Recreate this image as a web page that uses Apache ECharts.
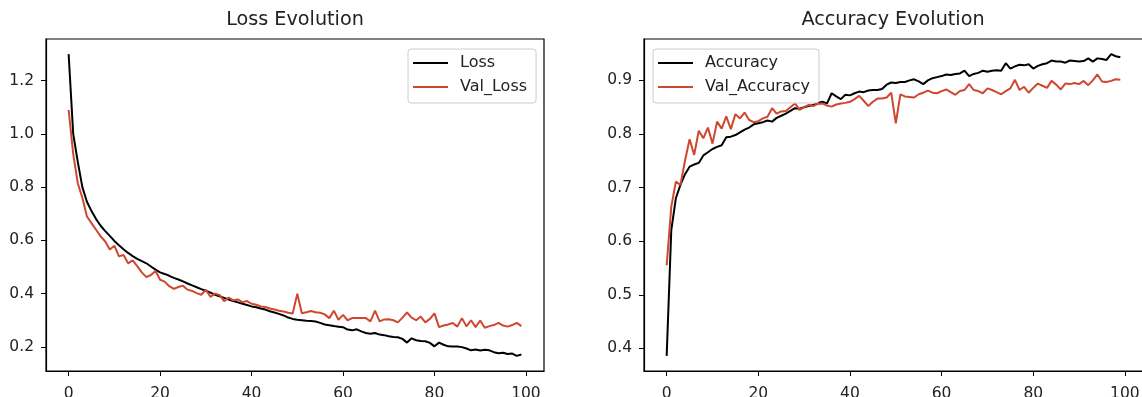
<!DOCTYPE html>
<html>
<head>
<meta charset="utf-8">
<script src="https://cdn.jsdelivr.net/npm/echarts@6/dist/echarts.min.js"></script>
<style>
html,body{margin:0;padding:0;background:#fff;}
#chart{width:1142px;height:397px;}
</style>
</head>
<body>
<div id="chart"></div>
<script>
// ---- data ----
const lossTitle = "Loss Evolution";
const accTitle = "Accuracy Evolution";
const xTicks = [0, 20, 40, 60, 80, 100];
const lossTicks = [0.2, 0.4, 0.6, 0.8, 1.0, 1.2];
const accTicks = [0.4, 0.5, 0.6, 0.7, 0.8, 0.9];

const loss = [1.300,1.000,0.895,0.800,0.745,0.710,0.680,0.655,0.635,0.617,
0.598,0.582,0.567,0.553,0.541,0.531,0.522,0.514,0.502,0.490,
0.480,0.474,0.467,0.459,0.453,0.446,0.438,0.431,0.424,0.417,
0.411,0.404,0.396,0.390,0.384,0.378,0.372,0.367,0.362,0.357,
0.352,0.349,0.344,0.340,0.334,0.329,0.324,0.318,0.310,0.305,
0.302,0.300,0.298,0.297,0.295,0.290,0.284,0.281,0.278,0.276,
0.274,0.265,0.262,0.266,0.258,0.252,0.249,0.252,0.246,0.244,
0.240,0.237,0.236,0.230,0.216,0.232,0.225,0.222,0.221,0.215,
0.202,0.216,0.208,0.202,0.201,0.201,0.199,0.194,0.187,0.190,
0.186,0.189,0.187,0.180,0.176,0.178,0.173,0.175,0.166,0.171];

const valLoss = [1.090,0.925,0.815,0.760,0.690,0.665,0.640,0.615,0.596,0.566,
0.580,0.540,0.545,0.514,0.525,0.503,0.480,0.462,0.470,0.485,
0.452,0.445,0.428,0.418,0.425,0.430,0.415,0.410,0.402,0.396,
0.414,0.388,0.400,0.395,0.372,0.385,0.375,0.378,0.368,0.372,
0.362,0.358,0.352,0.350,0.344,0.340,0.336,0.333,0.328,0.325,
0.400,0.326,0.330,0.335,0.330,0.328,0.322,0.308,0.336,0.302,
0.320,0.300,0.308,0.308,0.308,0.308,0.296,0.336,0.296,0.303,
0.304,0.300,0.292,0.310,0.329,0.310,0.300,0.314,0.292,0.305,
0.326,0.274,0.280,0.284,0.290,0.276,0.308,0.277,0.300,0.274,
0.299,0.272,0.278,0.282,0.290,0.280,0.276,0.282,0.290,0.278];

const accuracy = [0.386,0.620,0.680,0.705,0.725,0.739,0.743,0.746,0.760,0.766,
0.772,0.776,0.779,0.794,0.795,0.798,0.803,0.808,0.812,0.818,
0.820,0.822,0.825,0.823,0.830,0.834,0.838,0.843,0.848,0.847,
0.850,0.852,0.854,0.858,0.860,0.857,0.876,0.870,0.865,0.873,
0.872,0.876,0.879,0.878,0.881,0.882,0.882,0.884,0.892,0.896,
0.895,0.897,0.897,0.900,0.902,0.898,0.893,0.900,0.904,0.906,
0.908,0.911,0.910,0.912,0.913,0.918,0.908,0.912,0.914,0.918,
0.916,0.918,0.919,0.918,0.932,0.922,0.926,0.929,0.928,0.930,
0.922,0.927,0.930,0.932,0.937,0.935,0.935,0.933,0.937,0.936,
0.935,0.936,0.941,0.935,0.941,0.940,0.938,0.949,0.945,0.943];

const valAccuracy = [0.555,0.664,0.711,0.705,0.750,0.790,0.761,0.806,0.792,0.812,
0.782,0.823,0.810,0.833,0.809,0.837,0.829,0.840,0.826,0.822,
0.824,0.829,0.832,0.848,0.838,0.842,0.843,0.850,0.857,0.845,
0.850,0.854,0.852,0.856,0.857,0.853,0.851,0.855,0.857,0.858,
0.860,0.865,0.871,0.862,0.852,0.860,0.866,0.866,0.868,0.877,
0.820,0.874,0.870,0.869,0.868,0.874,0.877,0.881,0.877,0.876,
0.880,0.883,0.878,0.873,0.880,0.882,0.893,0.882,0.880,0.876,
0.885,0.882,0.878,0.874,0.880,0.885,0.901,0.882,0.888,0.877,
0.886,0.894,0.890,0.886,0.899,0.892,0.883,0.894,0.893,0.895,
0.893,0.899,0.891,0.900,0.911,0.898,0.897,0.899,0.902,0.901];

// ---- build chart ----
const FONT = "DejaVu Sans";
const BLACK = "#000000";
const RED = "#cf4730";
const pairs = arr => arr.map((v, i) => [i, v]);

function padRange(arrs) {
  let mn = Infinity, mx = -Infinity;
  arrs.forEach(a => a.forEach(v => { if (v < mn) mn = v; if (v > mx) mx = v; }));
  const m = (mx - mn) * 0.05;
  return [mn - m, mx + m];
}
const xr = [-0.05 * 99, 99 + 0.05 * 99];
const lr = padRange([loss, valLoss]);
const ar = padRange([accuracy, valAccuracy]);

function xAxis(gi) {
  return {
    type: 'value', gridIndex: gi, min: xr[0], max: xr[1], position: 'bottom',
    axisLine: { show: true, onZero: false, lineStyle: { color: '#000', width: 1.2 } },
    splitLine: { show: false },
    axisTick: { show: true, inside: false, length: 5, lineStyle: { color: '#000', width: 1 }, customValues: xTicks },
    axisLabel: { customValues: xTicks, margin: 15, color: '#222', fontFamily: FONT, fontSize: 15.5 }
  };
}
function yAxis(gi, r, ticks) {
  return {
    type: 'value', gridIndex: gi, min: r[0], max: r[1], position: 'left',
    axisLine: { show: true, onZero: false, lineStyle: { color: '#000', width: 1.2 } },
    splitLine: { show: false },
    axisTick: { show: true, inside: false, length: 5, lineStyle: { color: '#000', width: 1 }, customValues: ticks },
    axisLabel: { customValues: ticks, margin: 12, color: '#222', fontFamily: FONT, fontSize: 15.5,
      formatter: v => v.toFixed(1) }
  };
}
function legend(left, names) {
  return {
    data: names, orient: 'vertical', left: left, top: 49,
    icon: 'rect', itemWidth: 35, itemHeight: 2, itemGap: 6,
    padding: [5, 9, 7, 5],
    backgroundColor: 'rgba(255,255,255,0.8)', borderColor: '#cccccc', borderWidth: 1, borderRadius: 3,
    textStyle: { fontFamily: FONT, fontSize: 16, color: '#222', lineHeight: 18, padding: [0, 0, 0, 7] }
  };
}
function line(name, data, color, xi, yi) {
  return {
    name: name, type: 'line', data: pairs(data), xAxisIndex: xi, yAxisIndex: yi,
    symbol: 'none', color: color, lineStyle: { color: color, width: 2 }, animation: false
  };
}

const chart = echarts.init(document.getElementById('chart'), null, { renderer: 'canvas' });
chart.setOption({
  backgroundColor: '#ffffff',
  animation: false,
  title: [
    { text: lossTitle, left: 295, top: 11, textAlign: 'center', padding: 0,
      textStyle: { fontFamily: FONT, fontSize: 19.2, fontWeight: 'normal', color: '#222' } },
    { text: accTitle, left: 893, top: 11, textAlign: 'center', padding: 0,
      textStyle: { fontFamily: FONT, fontSize: 19.2, fontWeight: 'normal', color: '#222' } }
  ],
  legend: [legend(408, ['Loss', 'Val_Loss']), legend(653, ['Accuracy', 'Val_Accuracy'])],
  grid: [
    { left: 46, top: 39, width: 498, height: 332, show: true, borderColor: '#000', borderWidth: 1.2,
      backgroundColor: 'transparent', containLabel: false, outerBoundsMode: 'none' },
    { left: 644, top: 39, width: 499, height: 332, show: true, borderColor: '#000', borderWidth: 1.2,
      backgroundColor: 'transparent', containLabel: false, outerBoundsMode: 'none' }
  ],
  xAxis: [xAxis(0), xAxis(1)],
  yAxis: [yAxis(0, lr, lossTicks), yAxis(1, ar, accTicks)],
  series: [
    line('Loss', loss, BLACK, 0, 0),
    line('Val_Loss', valLoss, RED, 0, 0),
    line('Accuracy', accuracy, BLACK, 1, 1),
    line('Val_Accuracy', valAccuracy, RED, 1, 1)
  ]
});
</script>
</body>
</html>
